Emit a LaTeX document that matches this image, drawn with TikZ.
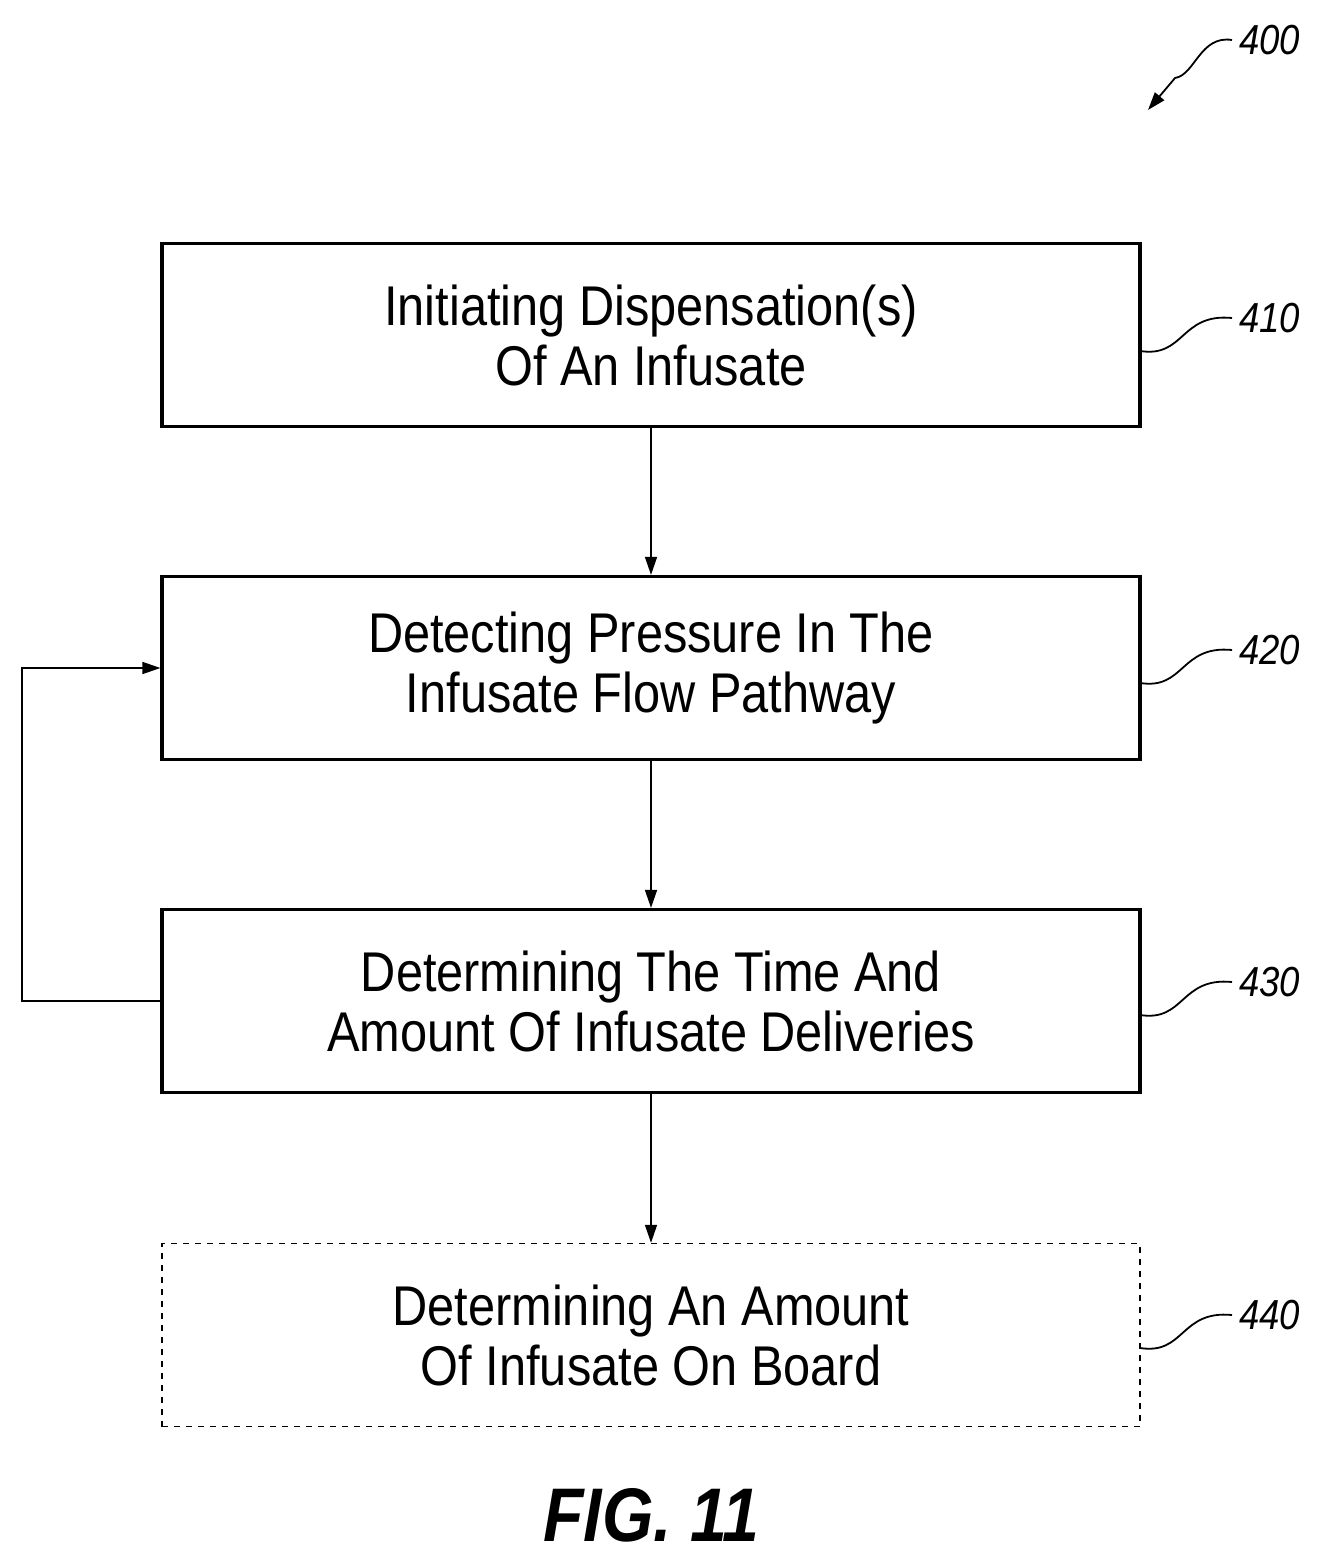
\documentclass[tikz,border=0pt]{standalone}
\usepackage{fontspec}
\setmainfont{Liberation Sans}[FakeStretch=0.87]
\usetikzlibrary{arrows.meta}
\begin{document}
\begin{tikzpicture}[x=0.5pt,y=-0.5pt,
  box/.style={draw,line width=1.6pt,minimum width=489pt,minimum height=91.5pt,align=center,font=\fontsize{28}{30}\selectfont,inner sep=0pt},
  arr/.style={line width=0.8pt,-{Triangle[length=9pt,width=6pt]}},
  lbl/.style={font=\itshape\fontsize{21}{24}\selectfont,anchor=west},
  sq/.style={line width=0.9pt}]
\useasboundingbox (0,0) rectangle (1324,1561);
\node[box] (b1) at (651,335) {Initiating Dispensation(s)\\Of An Infusate};
\node[box] (b2) at (651,668) {Detecting Pressure In The\\Infusate Flow Pathway};
\node[box] (b3) at (651,1001) {Determining The Time And\\Amount Of Infusate Deliveries};
\node[box,dashed,line width=0.7pt] (b4) at (651,1335) {Determining An Amount\\Of Infusate On Board};
\draw[arr] (b1) -- (b2);
\draw[arr] (b2) -- (b3);
\draw[arr] (b3) -- (b4);
\coordinate (c1) at (22,1001);
\coordinate (c2) at (22,668);
\draw[arr] (b3.west) -- (c1) -- (c2) -- (b2.west);
\foreach \n/\y in {410/318,420/650,430/982,440/1315}{
  \node[lbl] (l\n) at (1232,\y) {\n};
  \draw[sq] (1140,\y+33) .. controls (1185,\y+40) and (1180,\y-5) .. (l\n.west);
}
\node[lbl] (l400) at (1232,40) {400};
\coordinate (t400) at (1148,110);
\draw[sq,-{Triangle[length=9pt,width=6pt]}] (l400.west) .. controls (1200,35) and (1195,75) .. (1175,78) -- (t400);
\node[font=\bfseries\itshape\fontsize{38}{44}\selectfont] (fig) at (651,1515) {FIG. 11};
\end{tikzpicture}
\end{document}
